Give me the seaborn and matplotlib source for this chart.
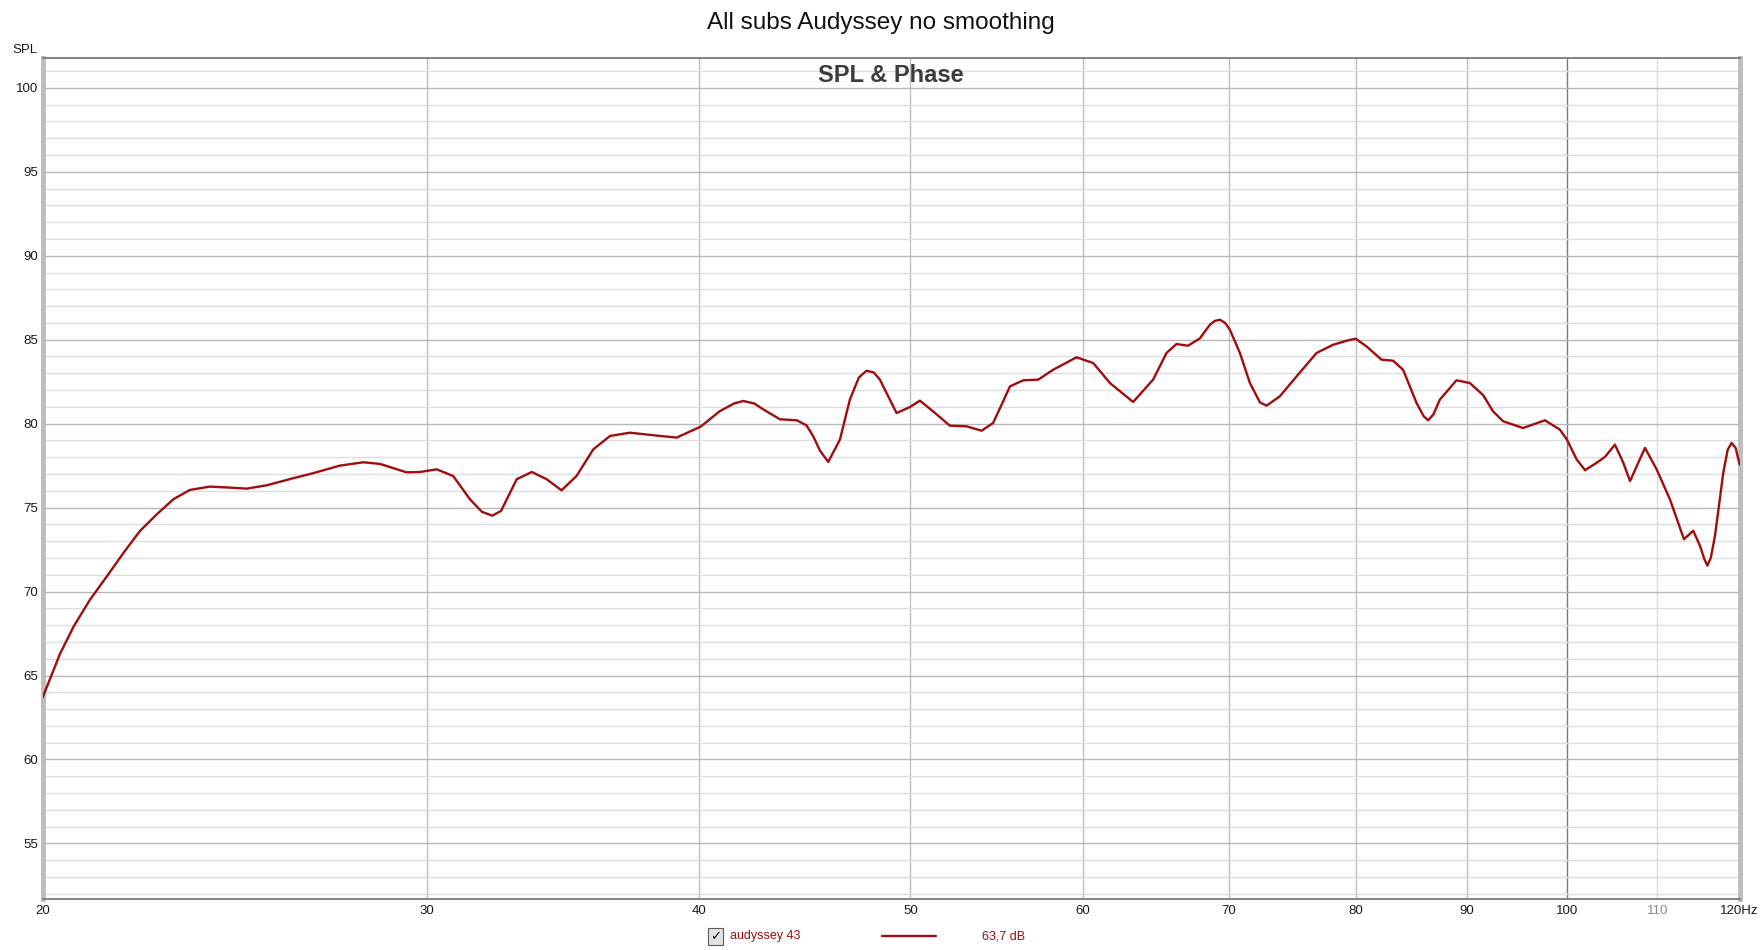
import matplotlib
matplotlib.use("Agg")
import matplotlib.pyplot as plt
import pandas as pd
import seaborn as sns
from matplotlib.lines import Line2D
from matplotlib.ticker import FixedLocator, MultipleLocator, NullLocator

# values (frequency in Hz, SPL in dB)
freq_hz = [
    20.0, 20.37, 20.66, 21.02, 21.40, 21.78, 22.16, 22.56, 22.96, 23.36,
    23.86, 24.29, 24.81, 25.34, 25.97, 26.61, 27.37, 28.06, 28.56, 29.37,
    29.79, 30.32, 30.85, 31.40, 31.80, 32.15, 32.45, 32.99, 33.52, 34.05, 34.59,
    35.14, 35.77, 36.41, 37.18, 38.10, 39.06, 40.06, 40.89, 41.50, 41.91, 42.40, 42.80,
    43.56, 44.34, 44.80, 45.12, 45.44, 45.84, 46.41, 46.90, 47.35, 47.73, 48.10, 48.41,
    49.27, 49.97, 50.50, 51.21, 52.12, 53.05, 53.90, 54.56, 55.54, 56.32,
    57.22, 58.13, 59.58, 60.64, 61.72, 63.25, 64.60, 65.52, 66.21, 67.03,
    67.87, 68.59, 68.95, 69.32, 69.70, 70.05, 70.80, 71.55, 72.31, 72.82, 73.85, 75.17,
    76.77, 78.13, 79.30, 80.00, 80.93, 82.22, 83.23, 84.11, 85.32, 85.95, 86.37, 86.85, 87.44,
    88.99, 90.25, 91.53, 92.50, 93.49, 95.48, 97.70, 99.26, 100.0, 101.03,
    101.93, 103.19, 104.10, 105.20, 106.13, 106.89, 107.65, 108.59, 109.94, 111.49,
    113.15, 114.27, 115.08, 115.60, 115.98, 116.40, 116.92, 117.95, 118.50, 119.00, 119.50, 120.0,
]
spl_db = [
    63.7, 66.3, 67.9, 69.5, 70.9, 72.3, 73.6, 74.6, 75.5, 76.05,
    76.25, 76.2, 76.13, 76.33, 76.7, 77.05, 77.5, 77.7, 77.6, 77.1,
    77.12, 77.28, 76.88, 75.5, 74.75, 74.52, 74.8, 76.69, 77.12, 76.69, 76.03,
    76.88, 78.47, 79.27, 79.46, 79.31, 79.17, 79.82, 80.75, 81.2, 81.35, 81.2, 80.85,
    80.26, 80.2, 79.9, 79.25, 78.4, 77.72, 79.05, 81.43, 82.75, 83.15, 83.05, 82.62,
    80.63, 80.99, 81.37, 80.73, 79.88, 79.84, 79.58, 80.04, 82.22, 82.58,
    82.62, 83.21, 83.95, 83.61, 82.42, 81.29, 82.62, 84.21, 84.74, 84.64,
    85.08, 85.89, 86.12, 86.19, 86.0, 85.6, 84.21, 82.42, 81.27, 81.07, 81.63, 82.82,
    84.21, 84.7, 84.95, 85.06, 84.6, 83.81, 83.75, 83.21, 81.23, 80.45, 80.2, 80.55, 81.43,
    82.58, 82.42, 81.7, 80.73, 80.14, 79.74, 80.2, 79.64, 79.05, 77.87,
    77.23, 77.67, 78.02, 78.75, 77.67, 76.58, 77.47, 78.56, 77.27, 75.49,
    73.12, 73.62, 72.73, 71.95, 71.54, 72.0, 73.32, 77.08, 78.45, 78.85, 78.55, 77.57,
]

x_ticks = [20, 30, 40, 50, 60, 70, 80, 90, 100, 110, 120]
x_tick_labels = ["20", "30", "40", "50", "60", "70", "80", "90", "100", "110", "120Hz"]
y_ticks = [55, 60, 65, 70, 75, 80, 85, 90, 95, 100]

trace_name = "audyssey 43"
trace_offset = "63,7 dB"
line_color = "#a00d0d"

sns.set_style("white")
plt.rcParams["font.family"] = ["Liberation Sans", "DejaVu Sans"]

data = pd.DataFrame({"freq": freq_hz, "spl": spl_db})

fig = plt.figure(figsize=(17.61, 9.5), dpi=100)
ax = fig.add_axes([0.02425, 0.0542, 0.9636, 0.8843])

sns.lineplot(data=data, x="freq", y="spl", ax=ax, color=line_color, linewidth=1.7,
             zorder=5, sort=False, solid_joinstyle="round", solid_capstyle="round")

ax.set_xscale("log")
ax.set_xlim(20, 120)
ax.set_ylim(51.72, 101.75)
ax.xaxis.set_major_locator(FixedLocator(x_ticks))
ax.xaxis.set_minor_locator(NullLocator())
ax.set_xticklabels(x_tick_labels)
ax.yaxis.set_major_locator(FixedLocator(y_ticks))
ax.yaxis.set_minor_locator(MultipleLocator(1))
ax.set_xlabel("")
ax.set_ylabel("")

ax.grid(True, which="major", axis="y", color="#b8b8b8", linewidth=1.0)
ax.grid(True, which="minor", axis="y", color="#dedede", linewidth=1.0)
ax.grid(True, which="major", axis="x", color="#c0c0c0", linewidth=1.0)
for tick_value, gl in zip(x_ticks, ax.xaxis.get_gridlines()):
    if tick_value == 100:
        gl.set_color("#7a7a7a")
    elif tick_value == 110:
        gl.set_color("#dcdcdc")
ax.set_axisbelow(True)

ax.tick_params(axis="both", which="both", length=0, labelsize=9.5, colors="#1a1a1a")
ax.tick_params(axis="y", pad=3)
ax.tick_params(axis="x", pad=5)
ax.get_xticklabels()[9].set_color("#8a8a8a")

for side in ("left", "right"):
    ax.spines[side].set_color("#bdbdbd")
    ax.spines[side].set_linewidth(3.5)
for side in ("top", "bottom"):
    ax.spines[side].set_color("#7a7a7a")
    ax.spines[side].set_linewidth(1.3)

ax.text(0.5, 0.980, "SPL & Phase", transform=ax.transAxes, ha="center", va="center",
        fontsize=17, fontweight="bold", color="#3c3c3c")

fig.text(0.5, 0.976, "All subs Audyssey no smoothing", ha="center", va="center",
         fontsize=17.5, color="#111111")
fig.text(0.0215, 0.9475, "SPL", ha="right", va="center", fontsize=9.5, color="#1a1a1a")

# legend row below the plot
legend_y = 0.0145
fig.text(0.4065, legend_y, "\u2713", ha="center", va="center", fontsize=9.5, color="#111111",
         family=["DejaVu Sans"],
         bbox=dict(boxstyle="square,pad=0.15", fc="#e4e4e4", ec="#5a5a5a", lw=0.8))
fig.text(0.4145, legend_y, trace_name, ha="left", va="center", fontsize=9, color=line_color)
fig.add_artist(Line2D([0.5008, 0.5313], [legend_y, legend_y],
                      transform=fig.transFigure, color=line_color, linewidth=1.7))
fig.text(0.5575, legend_y, trace_offset, ha="left", va="center", fontsize=9, color=line_color)

fig.savefig("out.png", dpi=100)
plt.close(fig)
